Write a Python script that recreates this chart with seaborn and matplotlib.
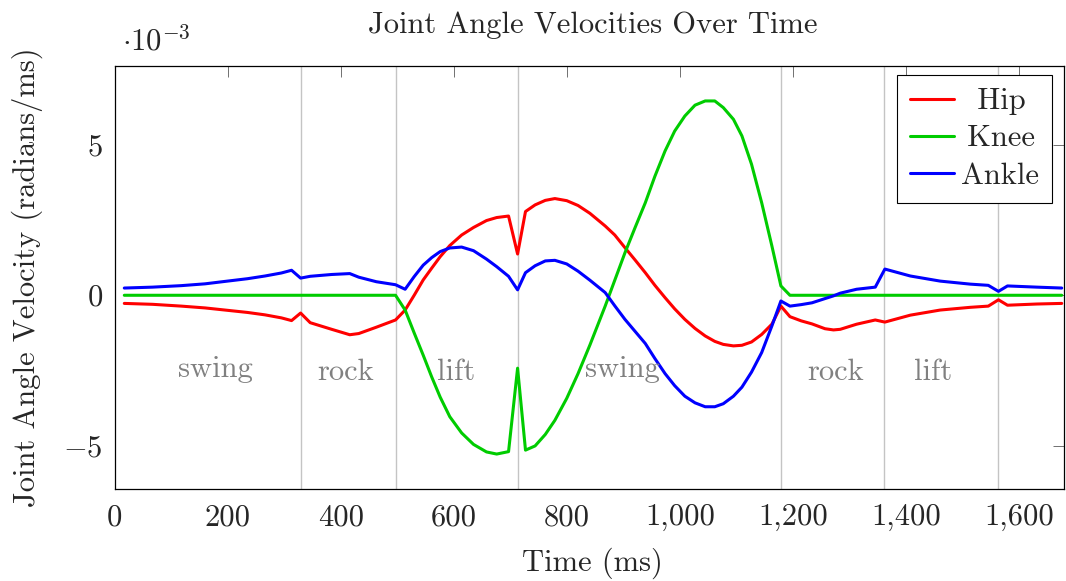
import numpy as np
import pandas as pd
import matplotlib
matplotlib.use("Agg")
import matplotlib.pyplot as plt
import seaborn as sns
from matplotlib.lines import Line2D

# ---------------- data (velocities in units of 1e-3 rad/ms) ----------------
time_ms = [17, 67, 118, 160, 195, 235, 266, 295, 313, 329,
           346, 384, 416, 432, 463, 497, 514, 530, 546, 561,
           576, 593, 614, 635, 658, 676, 697, 713, 727, 744,
           762, 779, 800, 820, 841, 868, 885, 903, 921, 939,
           956, 974, 991, 1009, 1027, 1045, 1062, 1077, 1095, 1110,
           1127, 1145, 1163, 1179, 1195, 1215, 1234, 1257, 1272, 1284,
           1313, 1346, 1363, 1408, 1461, 1514, 1546, 1564, 1580, 1632,
           1676]

hip = [-0.27, -0.30, -0.36, -0.42, -0.49, -0.57, -0.65, -0.75, -0.84, -0.59,
       -0.91, -1.13, -1.31, -1.27, -1.06, -0.82, -0.49, 0.00, 0.51, 0.90,
       1.28, 1.65, 2.00, 2.25, 2.48, 2.58, 2.63, 1.37, 2.78, 3.00,
       3.15, 3.21, 3.14, 2.98, 2.72, 2.30, 2.00, 1.58, 1.17, 0.75,
       0.33, -0.08, -0.45, -0.80, -1.10, -1.35, -1.53, -1.63, -1.68, -1.66,
       -1.55, -1.30, -0.96, -0.36, -0.71, -0.85, -0.95, -1.11, -1.15, -1.13,
       -0.96, -0.82, -0.89, -0.66, -0.49, -0.40, -0.36, -0.15, -0.33, -0.29,
       -0.27]

knee = [0.0, 0.0, 0.0, 0.0, 0.0, 0.0, 0.0, 0.0, 0.0, 0.0,
        0.0, 0.0, 0.0, 0.0, 0.0, 0.0, -0.49, -1.25, -1.99, -2.71,
        -3.38, -4.03, -4.57, -4.95, -5.20, -5.27, -5.19, -2.42, -5.14, -5.00,
        -4.62, -4.15, -3.42, -2.60, -1.65, -0.36, 0.50, 1.41, 2.25, 3.07,
        3.95, 4.79, 5.45, 5.95, 6.31, 6.45, 6.45, 6.23, 5.84, 5.29,
        4.35, 3.07, 1.64, 0.31, 0.0, 0.0, 0.0, 0.0, 0.0, 0.0,
        0.0, 0.0, 0.0, 0.0, 0.0, 0.0, 0.0, 0.0, 0.0, 0.0,
        0.0]

ankle = [0.24, 0.27, 0.32, 0.38, 0.46, 0.55, 0.64, 0.74, 0.83, 0.57,
         0.63, 0.69, 0.72, 0.60, 0.45, 0.35, 0.20, 0.62, 1.00, 1.25,
         1.45, 1.57, 1.60, 1.48, 1.20, 0.95, 0.63, 0.18, 0.75, 0.98,
         1.14, 1.16, 1.04, 0.80, 0.50, 0.09, -0.35, -0.80, -1.20, -1.60,
         -2.10, -2.60, -3.00, -3.35, -3.57, -3.70, -3.70, -3.60, -3.35, -3.05,
         -2.55, -1.90, -1.02, -0.19, -0.36, -0.31, -0.25, -0.11, -0.02, 0.07,
         0.20, 0.27, 0.87, 0.64, 0.47, 0.37, 0.33, 0.13, 0.31, 0.27,
         0.24]

joint_names = ["Hip", "Knee", "Ankle"]
joint_colors = ["#ff0000", "#00cc00", "#0000ff"]

phase_bounds = [330, 497, 714, 1179, 1362, 1564]
phase_labels = ["swing", "rock", "lift", "swing", "rock", "lift"]
phase_label_x = [179, 409, 604, 899, 1275, 1449]
phase_label_y = [-2.72, -2.81, -2.81, -2.72, -2.81, -2.81]

x_ticks = [0, 200, 400, 600, 800, 1000, 1200, 1400, 1600]
x_tick_labels = ["0", "200", "400", "600", "800", "1,000", "1,200", "1,400", "1,600"]
y_ticks = [-5, 0, 5]
y_tick_labels = ["$-5$", "$0$", "$5$"]

title = "Joint Angle Velocities Over Time"
x_label = "Time (ms)"
y_label = "Joint Angle Velocity (radians/ms)"
scale_label = r"$\cdot10^{-3}$"

# ---------------- style ----------------
sns.set_theme(style="white")
plt.rcParams["font.family"] = ["cmr10", "DejaVu Serif"]
plt.rcParams["mathtext.fontset"] = "cm"
plt.rcParams["axes.formatter.use_mathtext"] = True
plt.rcParams["axes.unicode_minus"] = False

W, H = 1066, 581
fig = plt.figure(figsize=(W / 100, H / 100), dpi=100)
ax_l, ax_r, ax_t, ax_b = 114.7, 1064.0, 66.0, 489.3
ax = fig.add_axes([ax_l / W, 1 - ax_b / H, (ax_r - ax_l) / W, (ax_b - ax_t) / H])

df = pd.DataFrame({
    "Time": time_ms * 3,
    "Velocity": hip + knee + ankle,
    "Joint": sum([[n] * len(time_ms) for n in joint_names], []),
})

for b in phase_bounds:
    ax.axvline(b, color="#c4c4c4", lw=1.0, zorder=0)

sns.lineplot(data=df, x="Time", y="Velocity", hue="Joint", hue_order=joint_names,
             palette=dict(zip(joint_names, joint_colors)), estimator=None,
             sort=False, lw=2.2, ax=ax, legend=False, zorder=3)

for lab, lx, ly in zip(phase_labels, phase_label_x, phase_label_y):
    ax.text(lx, ly, lab, color="#808080", fontsize=22, ha="center", va="baseline")

ax.set_xlim(0, 1680)
ax.set_ylim(-6.44, 7.61)
ax.set_xticks(x_ticks)
ax.set_xticklabels(x_tick_labels)
ax.set_yticks(y_ticks)
ax.set_yticklabels(y_tick_labels)
ax.tick_params(direction="in", length=7.9, width=0.7, color="#707070",
               top=True, right=True, labelsize=22)
ax.tick_params(axis="x", pad=10.5)
ax.tick_params(axis="y", pad=8.5)
ax.set_xlabel("")
ax.set_ylabel("")
for s in ax.spines.values():
    s.set_color("black")
    s.set_linewidth(0.9)

handles = [Line2D([0], [0], color=c, lw=2.2) for c in joint_colors]
leg_labels = [" \u2009" + joint_names[0], "\u2009" + joint_names[1], joint_names[2]]
leg = ax.legend(handles, leg_labels, loc="upper right",
                bbox_to_anchor=((1052.3 - ax_l) / (ax_r - ax_l), (ax_b - 75) / (ax_b - ax_t)),
                borderaxespad=0, frameon=True, fancybox=False, edgecolor="black",
                framealpha=1, fontsize=22, handlelength=1.43, handletextpad=0.25,
                borderpad=0.42, labelspacing=0.32)
leg.get_frame().set_linewidth(0.8)

fig.text(593 / W, 1 - 33 / H, title, fontsize=22, ha="center", va="baseline")
fig.text(592 / W, 1 - 571 / H, x_label, fontsize=22, ha="center", va="baseline")
fig.text(27 / W, 1 - ((ax_t + ax_b) / 2) / H, y_label, fontsize=22, ha="center",
         va="center", rotation=90)
fig.text(122 / W, 1 - 50 / H, scale_label, fontsize=22, ha="left", va="baseline")

fig.savefig("out.png", dpi=100)
